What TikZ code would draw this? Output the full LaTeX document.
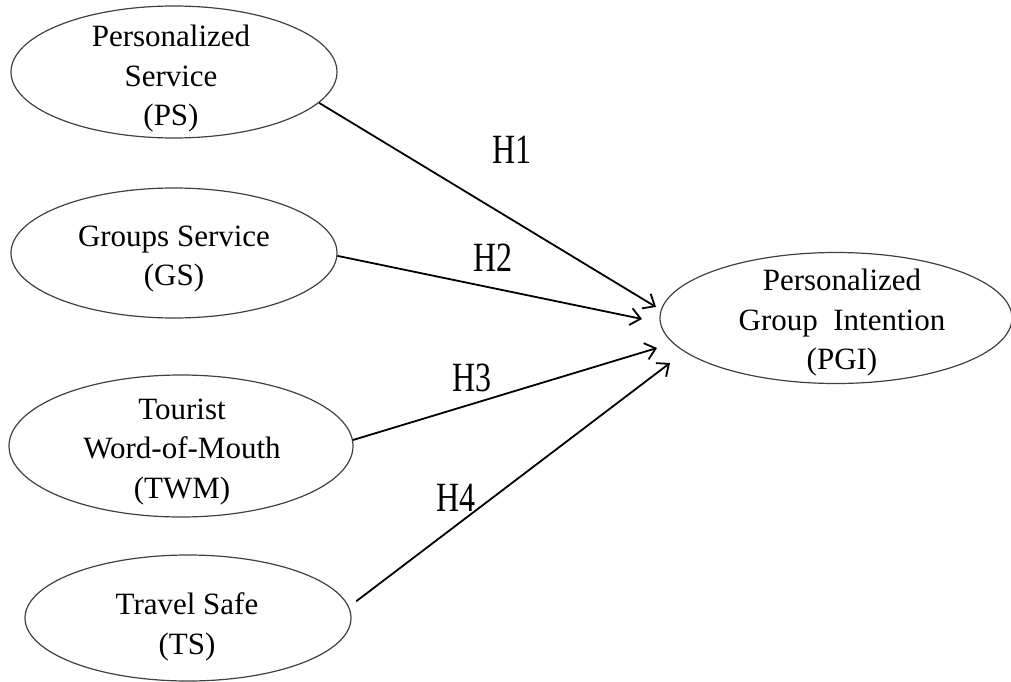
\documentclass[tikz,border=0pt]{standalone}
\usepackage{fontspec}
\setmainfont{Liberation Serif}
\usetikzlibrary{shapes.geometric,arrows.meta}
\begin{document}
\begin{tikzpicture}[x=1pt,y=-1pt,
  oval/.style={ellipse,draw=black!75,line width=1.2pt,inner sep=0pt},
  txt/.style={align=center,inner sep=0pt,font=\fontsize{31}{39.5}\selectfont},
  hlab/.style={inner sep=0pt,font=\fontsize{32}{38}\selectfont},
  path/.style={line width=1.8pt,-{Straight Barb[length=10pt,width=17pt,line width=1.8pt]}}]
\useasboundingbox (0,0) rectangle (1011,682);
% ellipses
\node[oval,minimum width=326pt,minimum height=132pt] (ps) at (174,72) {};
\node[oval,minimum width=326pt,minimum height=130pt] (gs) at (174,253) {};
\node[oval,minimum width=344pt,minimum height=142pt] (twm) at (181,446) {};
\node[oval,minimum width=326pt,minimum height=126pt] (ts) at (188,618) {};
\node[oval,minimum width=352pt,minimum height=131pt] (pgi) at (836,318) {};
% texts
\node[txt] (pst) at (171,79) {Personalized\\Service\\(PS)};
\node[txt] (gst) at (174,259) {Groups Service\\(GS)};
\node[txt] (twmt) at (182,452) {Tourist\\Word-of-Mouth\\(TWM)};
\node[txt] (tst) at (187,627) {Travel Safe\\(TS)};
\node[txt] (pgit) at (842,323) {Personalized\\Group\ \ Intention\\(PGI)};
% arrow tips
\coordinate (t1) at (656,307);
\coordinate (t2) at (642,319);
\coordinate (t3) at (657,348);
\coordinate (t4) at (670,363);
% connectors
\draw[path] (ps.-12) -- (t1);
\draw[path] (gs.-1) -- (t2);
\draw[path] (twm.2) -- (t3);
\draw[path,shorten <=9pt] (ts.4) -- (t4);
% labels
\node[hlab] (h1) at (512,150) {\scalebox{1}[1.3]{H1}};
\node[hlab] (h2) at (493,258) {\scalebox{1}[1.3]{H2}};
\node[hlab] (h3) at (472,378) {\scalebox{1}[1.3]{H3}};
\node[hlab] (h4) at (456,498) {\scalebox{1}[1.3]{H4}};
\end{tikzpicture}
\end{document}
